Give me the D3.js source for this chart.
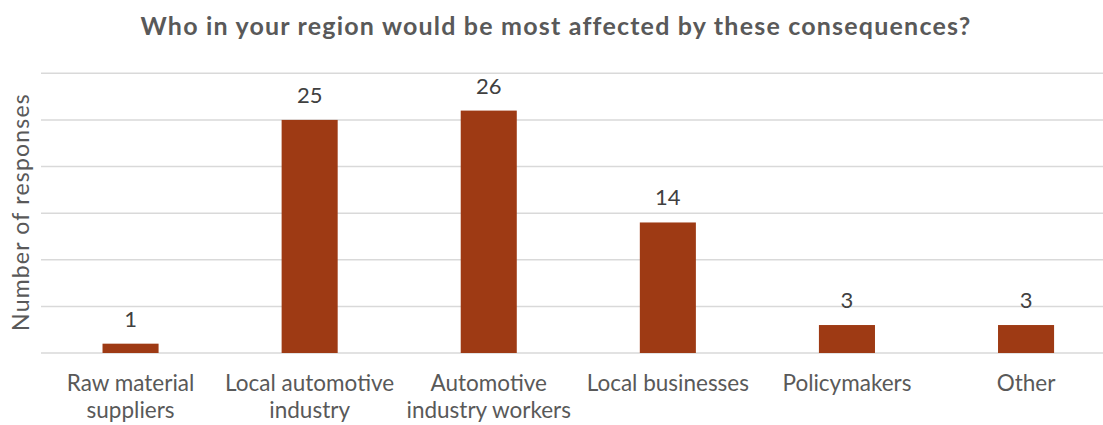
<!DOCTYPE html>
<html>
<head>
<meta charset="utf-8">
<script src="https://cdn.jsdelivr.net/npm/d3@7"></script>
<style>
body{margin:0;background:#fff;}
svg{display:block;font-family:Lato,"Open Sans",sans-serif;}
</style>
</head>
<body>
<div id="chart"></div>
<script>
(function(){

const categories = [
["Raw material","suppliers"],
["Local automotive","industry"],
["Automotive","industry workers"],
["Local businesses"],
["Policymakers"],
["Other"]
];
const values = [1,25,26,14,3,3];
const yTicks = [0,5,10,15,20,25,30];

const width = 1103;
const height = 425;

const svg = d3.select("#chart")
.append("svg")
.attr("width",width)
.attr("height",height);

const names = categories.map(d=>d.join(" "));

const x = d3.scaleBand()
.domain(names)
.range([41,1115.6])
.paddingInner(0.687)
.paddingOuter(0.3435);

const y = d3.scaleLinear()
.domain([0,30])
.range([353,73.3]);

// gridlines
svg.append("g")
.selectAll("line")
.data(yTicks)
.enter()
.append("line")
.attr("x1",41)
.attr("x2",width)
.attr("y1",d=>y(d))
.attr("y2",d=>y(d))
.attr("stroke","#d9d9d9")
.attr("stroke-width",1.5);

// bars
svg.append("g")
.selectAll("rect")
.data(values)
.enter()
.append("rect")
.attr("x",(d,i)=>x(names[i]))
.attr("y",d=>y(d))
.attr("width",x.bandwidth())
.attr("height",d=>y(0)-y(d))
.attr("fill","#9e3a14");

// value labels
svg.append("g")
.selectAll("text")
.data(values)
.enter()
.append("text")
.attr("x",(d,i)=>x(names[i])+x.bandwidth()/2)
.attr("y",d=>y(d)-17)
.attr("text-anchor","middle")
.attr("fill","#404040")
.style("font-size","22px")
.text(d=>d);

// category labels
const cat = svg.append("g")
.selectAll("text")
.data(categories)
.enter()
.append("text")
.attr("x",(d,i)=>x(names[i])+x.bandwidth()/2)
.attr("y",391)
.attr("text-anchor","middle")
.attr("fill","#595959")
.style("font-size","22.5px");

cat.selectAll("tspan")
.data(d=>d)
.enter()
.append("tspan")
.attr("x",function(){ return d3.select(this.parentNode).attr("x"); })
.attr("dy",(d,i)=>i===0?0:27)
.text(d=>d);

// title
svg.append("text")
.attr("x",556)
.attr("y",35)
.attr("text-anchor","middle")
.attr("fill","#595959")
.style("font-size","25px")
.style("letter-spacing","1.2px")
.style("font-weight","bold")
.text("Who in your region would be most affected by these consequences?");

// y axis label
svg.append("text")
.attr("transform","translate(29,212) rotate(-90)")
.attr("text-anchor","middle")
.attr("fill","#595959")
.style("font-size","23px")
.style("letter-spacing","1.2px")
.text("Number of responses");

})();
</script>
</body>
</html>
